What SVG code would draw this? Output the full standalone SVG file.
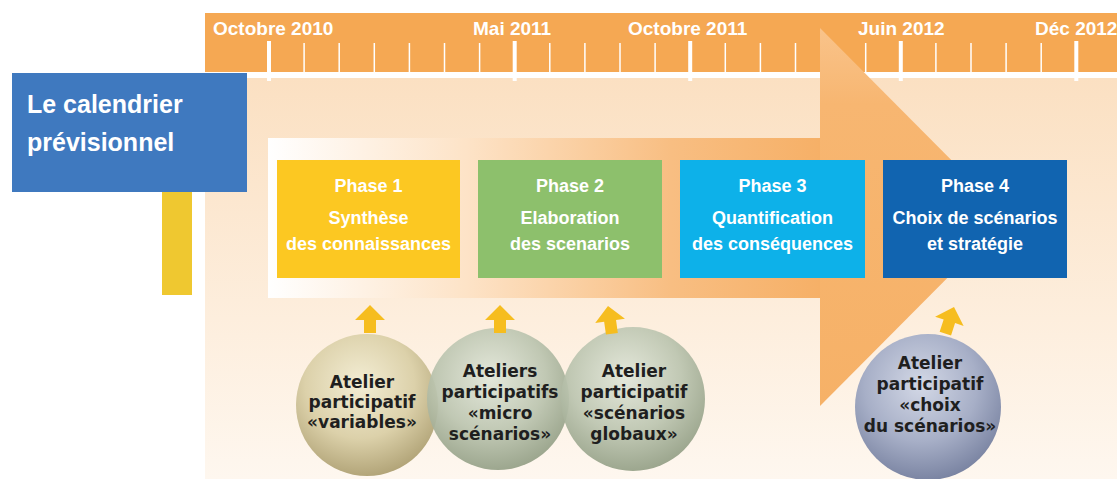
<svg xmlns="http://www.w3.org/2000/svg" width="1117" height="479" viewBox="0 0 1117 479">
<defs>
<linearGradient id="bgGrad" x1="0" y1="0" x2="0" y2="1">
<stop offset="0" stop-color="#fbe0c2"/>
<stop offset="0.6" stop-color="#fdeedd"/>
<stop offset="1" stop-color="#fef7ef"/>
</linearGradient>
<linearGradient id="shaftGrad" x1="268" y1="0" x2="820" y2="0" gradientUnits="userSpaceOnUse">
<stop offset="0" stop-color="#ffffff"/>
<stop offset="0.36" stop-color="#fde3c7"/>
<stop offset="0.73" stop-color="#f8be82"/>
<stop offset="1" stop-color="#f6b067"/>
</linearGradient>
<linearGradient id="headGrad" x1="0" y1="28" x2="0" y2="406" gradientUnits="userSpaceOnUse">
<stop offset="0" stop-color="#f9c38a"/>
<stop offset="0.2" stop-color="#f7b671"/>
<stop offset="1" stop-color="#f6b167"/>
</linearGradient>
<radialGradient id="sph1" cx="0.45" cy="0.35" r="0.7">
<stop offset="0" stop-color="#f3edd4"/>
<stop offset="0.55" stop-color="#dcd1aa"/>
<stop offset="1" stop-color="#ab9d70"/>
</radialGradient>
<radialGradient id="sph2" cx="0.45" cy="0.35" r="0.7">
<stop offset="0" stop-color="#e2e7da"/>
<stop offset="0.55" stop-color="#bcc5b0"/>
<stop offset="1" stop-color="#8e9a80"/>
</radialGradient>
<radialGradient id="sph4" cx="0.45" cy="0.35" r="0.7">
<stop offset="0" stop-color="#d3d8e6"/>
<stop offset="0.55" stop-color="#a7afc7"/>
<stop offset="1" stop-color="#737d9c"/>
</radialGradient>
<polygon id="upArrow" points="0,0 15,15 6,15 6,28 -6,28 -6,15 -15,15"/>
</defs>
<style>
.tl{font-family:"Liberation Sans",Arial,sans-serif;font-weight:bold;font-size:19px;fill:#ffffff}
.minor{stroke:#ffffff;stroke-width:1.5}
.major{stroke:#ffffff;stroke-width:4}
.ph{font-family:"Liberation Sans",Arial,sans-serif;font-weight:bold;font-size:18px;fill:#ffffff;text-anchor:middle}
.title{font-family:"Liberation Sans",Arial,sans-serif;font-weight:bold;font-size:25px;fill:#ffffff}
.ct{font-family:"DejaVu Sans",sans-serif;font-weight:bold;font-size:17px;fill:#1f1f1f;text-anchor:middle}
.arr{fill:#f6bd1f}
</style>
<rect width="1117" height="479" fill="#ffffff"/>
<g id="background">
<rect x="205" y="78" width="912" height="401" fill="url(#bgGrad)"/>
<rect x="205" y="13" width="912" height="59" fill="#f5a853"/>
<rect x="205" y="72" width="912" height="6" fill="#ffffff"/>
</g>
<g id="timeline">
<g class="minor">
<line x1="304.1" y1="43" x2="304.1" y2="72"/>
<line x1="339.2" y1="43" x2="339.2" y2="72"/>
<line x1="374.3" y1="43" x2="374.3" y2="72"/>
<line x1="409.4" y1="43" x2="409.4" y2="72"/>
<line x1="444.5" y1="43" x2="444.5" y2="72"/>
<line x1="479.6" y1="43" x2="479.6" y2="72"/>
<line x1="549.8" y1="43" x2="549.8" y2="72"/>
<line x1="584.9" y1="43" x2="584.9" y2="72"/>
<line x1="620" y1="43" x2="620" y2="72"/>
<line x1="655.1" y1="43" x2="655.1" y2="72"/>
<line x1="725.3" y1="43" x2="725.3" y2="72"/>
<line x1="760.4" y1="43" x2="760.4" y2="72"/>
<line x1="795.5" y1="43" x2="795.5" y2="72"/>
<line x1="830.6" y1="43" x2="830.6" y2="72"/>
<line x1="865.7" y1="43" x2="865.7" y2="72"/>
<line x1="935.9" y1="43" x2="935.9" y2="72"/>
<line x1="971" y1="43" x2="971" y2="72"/>
<line x1="1006.1" y1="43" x2="1006.1" y2="72"/>
<line x1="1041.2" y1="43" x2="1041.2" y2="72"/>
</g>
<g class="major">
<line x1="269" y1="41" x2="269" y2="81"/>
<line x1="514.7" y1="41" x2="514.7" y2="81"/>
<line x1="690.2" y1="41" x2="690.2" y2="81"/>
<line x1="900.8" y1="41" x2="900.8" y2="81"/>
<line x1="1076.3" y1="41" x2="1076.3" y2="81"/>
</g>
<text class="tl" x="213" y="35">Octobre 2010</text>
<text class="tl" x="473" y="35">Mai 2011</text>
<text class="tl" x="628" y="35">Octobre 2011</text>
<text class="tl" x="858" y="35">Juin 2012</text>
<text class="tl" x="1035" y="35">Déc 2012</text>
</g>
<g id="big-arrow">
<rect x="268" y="138" width="553" height="160" fill="url(#shaftGrad)"/>
<polygon points="820,28 1008,217 820,406" fill="url(#headGrad)"/>
</g>
<g id="title">
<rect x="162" y="190" width="30" height="105" fill="#efc830"/>
<rect x="12" y="73" width="235" height="119" fill="#3f79bf"/>
<text class="title" x="27" y="113">Le calendrier</text>
<text class="title" x="27" y="151">prévisionnel</text>
</g>
<g id="phase1">
<rect x="277" y="160" width="183" height="118" fill="#fcc822"/>
<text class="ph" x="368.5" y="192">Phase 1</text>
<text class="ph" x="368.5" y="224">Synthèse</text>
<text class="ph" x="368.5" y="250">des connaissances</text>
</g>
<g id="phase2">
<rect x="478" y="160" width="184" height="118" fill="#8dc06c"/>
<text class="ph" x="570" y="192">Phase 2</text>
<text class="ph" x="570" y="224">Elaboration</text>
<text class="ph" x="570" y="250">des scenarios</text>
</g>
<g id="phase3">
<rect x="680" y="160" width="185" height="118" fill="#0db1e9"/>
<text class="ph" x="772.5" y="192">Phase 3</text>
<text class="ph" x="772.5" y="224">Quantification</text>
<text class="ph" x="772.5" y="250">des conséquences</text>
</g>
<g id="phase4">
<rect x="883" y="160" width="184" height="118" fill="#1164b0"/>
<text class="ph" x="975" y="192">Phase 4</text>
<text class="ph" x="975" y="224">Choix de scénarios</text>
<text class="ph" x="975" y="250">et stratégie</text>
</g>
<g id="atelier1">
<circle cx="367" cy="405" r="71" fill="url(#sph1)"/>
<text class="ct" x="362" y="388">Atelier</text>
<text class="ct" x="362" y="408">participatif</text>
<text class="ct" x="362" y="428">«variables»</text>
</g>
<g id="atelier2">
<circle cx="498" cy="399" r="71" fill="url(#sph2)" opacity="0.93"/>
<text class="ct" x="500" y="377">Ateliers</text>
<text class="ct" x="500" y="398">participatifs</text>
<text class="ct" x="500" y="419">«micro</text>
<text class="ct" x="500" y="440">scénarios»</text>
</g>
<g id="atelier3">
<circle cx="633" cy="399" r="72" fill="url(#sph2)" opacity="0.93"/>
<text class="ct" x="634" y="377">Atelier</text>
<text class="ct" x="634" y="398">participatif</text>
<text class="ct" x="634" y="419">«scénarios</text>
<text class="ct" x="634" y="440">globaux»</text>
</g>
<g id="atelier4">
<circle cx="928" cy="407" r="73" fill="url(#sph4)"/>
<text class="ct" x="930" y="369">Atelier</text>
<text class="ct" x="930" y="390">participatif</text>
<text class="ct" x="930" y="411">«choix</text>
<text class="ct" x="930" y="432">du scénarios»</text>
</g>
<g id="connectors">
<use href="#upArrow" class="arr" transform="translate(370,305)"/>
<use href="#upArrow" class="arr" transform="translate(500,305)"/>
<use href="#upArrow" class="arr" transform="translate(608,306) rotate(-8)"/>
<use href="#upArrow" class="arr" transform="translate(954,307) rotate(18)"/>
</g>
</svg>
